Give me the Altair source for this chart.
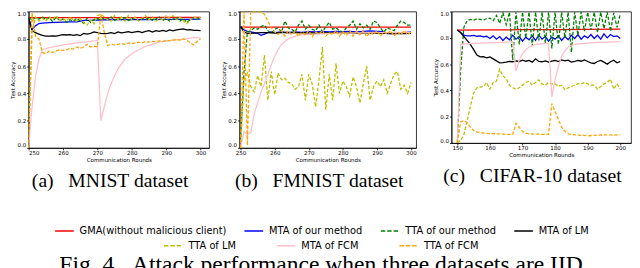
import altair as alt
import pandas as pd

SERIES = ["GMA(without malicious client)", "MTA of our method", "TTA of our method",
          "MTA of LM", "TTA of LM", "MTA of FCM", "TTA of FCM"]
GROUP_A = SERIES[:4]
GROUP_B = SERIES[4:]
COLORS_A = ["#ff0000", "#0000ff", "#008000", "#000000"]
COLORS_B = ["#bfbf00", "#ffc0cb", "#ffa500"]
DASHED = ["TTA of our method", "TTA of LM", "TTA of FCM"]

rounds_ab = list(range(250, 301))
rounds_c = list(range(150, 201))
y_ticks = [0.0, 0.2, 0.4, 0.6, 0.8, 1.0]
x_ticks_ab = [250, 260, 270, 280, 290, 300]
x_ticks_c = [150, 160, 170, 180, 190, 200]

# ---------------- (a) MNIST ----------------
a_gma_x = [250, 260, 270, 280, 290, 300]
a_gma_y = [0.955, 0.956, 0.956, 0.956, 0.957, 0.957]
a_mta_our_x = [250, 251, 252, 253, 254, 256, 258, 260, 262, 264, 266, 268, 270, 275, 280, 285, 290, 295, 300]
a_mta_our_y = [0.955, 0.87, 0.895, 0.912, 0.915, 0.918, 0.92, 0.922, 0.925, 0.925, 0.935, 0.936, 0.938, 0.94,
               0.94, 0.941, 0.942, 0.943, 0.944]
a_tta_our_y = [0.955, 0.94, 0.955, 0.945, 0.96, 0.94, 0.955, 0.925, 0.96, 0.935,
               0.945, 0.92, 0.94, 0.93, 0.95, 0.93, 0.915, 0.95, 0.92, 0.94,
               0.95, 0.935, 0.955, 0.945, 0.96, 0.935, 0.95, 0.94, 0.955, 0.935,
               0.945, 0.955, 0.935, 0.95, 0.94, 0.955, 0.935, 0.945, 0.96, 0.935,
               0.95, 0.93, 0.945, 0.955, 0.93, 0.95, 0.92, 0.94, 0.955, 0.945, 0.96]
a_mta_lm_y = [0.955, 0.86, 0.845, 0.835, 0.825, 0.82, 0.82, 0.822, 0.82, 0.825,
              0.83, 0.828, 0.83, 0.825, 0.83, 0.823, 0.84, 0.835, 0.84, 0.85,
              0.845, 0.84, 0.838, 0.84, 0.845, 0.838, 0.85, 0.843, 0.848, 0.852,
              0.845, 0.85, 0.855, 0.845, 0.855, 0.86, 0.85, 0.86, 0.855, 0.862,
              0.855, 0.865, 0.858, 0.866, 0.87, 0.872, 0.865, 0.868, 0.862, 0.862, 0.86]
a_tta_lm_y = [0.0, 0.85, 0.96, 0.93, 0.95, 0.93, 0.96, 0.94, 0.97, 0.93,
              0.95, 0.93, 0.96, 0.94, 0.93, 0.95, 0.92, 0.9, 0.94, 0.91,
              0.97, 0.98, 0.96, 0.94, 0.93, 0.97, 0.94, 0.96, 0.93, 0.97,
              0.94, 0.96, 0.93, 0.95, 0.97, 0.94, 0.96, 0.93, 0.95, 0.94,
              0.97, 0.95, 0.97, 0.94, 0.96, 0.93, 0.91, 0.94, 0.96, 0.95, 0.96]
a_mta_fcm_x = [250, 251, 252, 253, 254, 256, 258, 260, 262, 264, 266, 268, 270, 271, 272, 273, 274, 275, 276,
               278, 280, 282, 284, 286, 288, 290, 292, 294, 296, 298, 300]
a_mta_fcm_y = [0.0, 0.3, 0.52, 0.65, 0.72, 0.735, 0.745, 0.755, 0.762, 0.77, 0.775, 0.782, 0.788, 0.2, 0.3,
               0.4, 0.47, 0.53, 0.58, 0.65, 0.69, 0.72, 0.745, 0.76, 0.775, 0.785, 0.79, 0.795, 0.8, 0.81, 0.805]
a_tta_fcm_y = [0.0, 0.99, 0.82, 0.8, 0.70, 0.69, 0.71, 0.70, 0.71, 0.72,
               0.715, 0.72, 0.73, 0.725, 0.74, 0.73, 0.74, 0.76, 0.74, 0.745,
               0.74, 0.98, 0.85, 0.75, 0.76, 0.755, 0.76, 0.765, 0.76, 0.77,
               0.765, 0.77, 0.775, 0.77, 0.78, 0.775, 0.78, 0.78, 0.785, 0.78,
               0.79, 0.785, 0.79, 0.795, 0.79, 0.8, 0.79, 0.77, 0.755, 0.78, 0.80]

# ---------------- (b) FMNIST ----------------
b_gma_x = [250, 260, 270, 280, 290, 300]
b_gma_y = [0.885, 0.885, 0.885, 0.885, 0.885, 0.885]
b_mta_our_x = [250, 251, 252, 253, 254, 255, 256, 257, 258, 259, 260, 262, 264, 266, 268, 270, 272, 274, 276,
               278, 280, 282, 284, 286, 288, 290, 292, 293, 294, 296, 298, 300]
b_mta_our_y = [0.89, 0.865, 0.855, 0.85, 0.845, 0.84, 0.825, 0.835, 0.845, 0.85, 0.845, 0.85, 0.845, 0.85,
               0.848, 0.852, 0.85, 0.855, 0.85, 0.855, 0.852, 0.855, 0.85, 0.855, 0.858, 0.855, 0.852, 0.84,
               0.838, 0.84, 0.845, 0.85]
b_tta_our_y = [0.05, 0.55, 0.85, 0.86, 0.88, 0.87, 0.89, 0.9, 0.86, 0.84,
               0.87, 0.88, 0.85, 0.93, 0.88, 0.87, 0.85, 0.9, 0.93, 0.87,
               0.9, 0.87, 0.86, 0.9, 0.85, 0.89, 0.92, 0.87, 0.88, 0.86,
               0.85, 0.88, 0.9, 0.93, 0.87, 0.91, 0.88, 0.9, 0.87, 0.93,
               0.92, 0.88, 0.85, 0.88, 0.87, 0.86, 0.9, 0.93, 0.92, 0.9, 0.9]
b_mta_lm_x = [250, 251, 252, 254, 256, 258, 260, 262, 264, 266, 268, 270, 272, 274, 276, 278, 280, 282, 284,
              286, 288, 290, 292, 294, 296, 298, 300]
b_mta_lm_y = [0.89, 0.85, 0.84, 0.842, 0.845, 0.845, 0.842, 0.845, 0.848, 0.845, 0.843, 0.845, 0.842, 0.845,
              0.843, 0.845, 0.842, 0.845, 0.84, 0.843, 0.84, 0.842, 0.84, 0.838, 0.84, 0.838, 0.84]
b_tta_lm_y = [0.0, 0.5, 0.55, 0.45, 0.41, 0.53, 0.45, 0.68, 0.35, 0.56,
              0.39, 0.55, 0.5, 0.51, 0.48, 0.47, 0.43, 0.45, 0.54, 0.35,
              0.54, 0.47, 0.3, 0.5, 0.74, 0.28, 0.54, 0.35, 0.62, 0.4,
              0.49, 0.45, 0.38, 0.52, 0.45, 0.33, 0.47, 0.6, 0.35, 0.45,
              0.49, 0.45, 0.5, 0.4, 0.47, 0.54, 0.56, 0.43, 0.46, 0.4, 0.48]
b_mta_fcm_x = [250, 251, 252, 253, 254, 255, 256, 257, 258, 259, 260, 261, 262, 263, 264, 265, 267, 269, 272,
               276, 280, 290, 300]
b_mta_fcm_y = [0.0, 0.12, 0.1, 0.11, 0.25, 0.33, 0.41, 0.47, 0.54, 0.61, 0.67, 0.72, 0.76, 0.78, 0.8, 0.81,
               0.825, 0.83, 0.835, 0.84, 0.842, 0.845, 0.847]
b_tta_fcm_y = [0.0, 1.0, 0.02, 1.0, 1.0, 1.0, 0.995, 0.98, 0.93, 0.88,
               0.85, 0.83, 0.86, 0.82, 0.86, 0.83, 0.855, 0.82, 0.85, 0.83,
               0.86, 0.815, 0.85, 0.835, 0.86, 0.82, 0.845, 0.83, 0.86, 0.82,
               0.85, 0.825, 0.86, 0.82, 0.855, 0.83, 0.86, 0.815, 0.85, 0.83,
               0.86, 0.82, 0.85, 0.835, 0.86, 0.82, 0.85, 0.83, 0.86, 0.83, 0.85]

# ---------------- (c) CIFAR-10 ----------------
c_gma_x = [150, 160, 170, 180, 190, 200]
c_gma_y = [0.858, 0.86, 0.862, 0.863, 0.864, 0.866]
c_mta_our_y = [0.86, 0.84, 0.82, 0.815, 0.815, 0.818, 0.812, 0.815, 0.808, 0.812,
               0.795, 0.815, 0.79, 0.81, 0.78, 0.805, 0.785, 0.82, 0.79, 0.81,
               0.775, 0.805, 0.785, 0.815, 0.78, 0.82, 0.79, 0.81, 0.775, 0.805,
               0.79, 0.815, 0.78, 0.81, 0.785, 0.82, 0.795, 0.825, 0.79, 0.815,
               0.8, 0.825, 0.795, 0.82, 0.79, 0.83, 0.8, 0.825, 0.81, 0.815, 0.795]
c_tta_our_y = [0.0, 0.55, 0.88, 0.93, 0.94, 0.935, 0.945, 0.94, 0.935, 0.945,
               0.95, 0.93, 0.97, 0.91, 0.99, 0.9, 0.995, 0.63, 0.995, 0.75,
               0.995, 0.8, 0.995, 0.74, 0.995, 0.78, 0.995, 0.76, 0.995, 0.72,
               0.995, 0.75, 0.995, 0.8, 0.995, 0.69, 0.995, 0.82, 0.995, 0.85,
               0.995, 0.86, 0.995, 0.84, 0.995, 0.87, 0.995, 0.85, 0.99, 0.88, 0.98]
c_mta_lm_y = [0.86, 0.84, 0.81, 0.78, 0.75, 0.71, 0.67, 0.655, 0.656, 0.648,
              0.655, 0.64, 0.625, 0.61, 0.612, 0.615, 0.62, 0.618, 0.625, 0.62,
              0.63, 0.622, 0.628, 0.615, 0.64, 0.62, 0.618, 0.625, 0.615, 0.622,
              0.628, 0.62, 0.632, 0.625, 0.63, 0.615, 0.62, 0.628, 0.622, 0.632,
              0.62, 0.61, 0.605, 0.62, 0.628, 0.615, 0.6, 0.618, 0.63, 0.61, 0.62]
c_tta_lm_y = [0.0, 0.02, 0.06, 0.17, 0.28, 0.38, 0.42, 0.425, 0.43, 0.46,
              0.41, 0.46, 0.47, 0.56, 0.51, 0.49, 0.44, 0.42, 0.41, 0.42,
              0.44, 0.46, 0.47, 0.44, 0.46, 0.48, 0.45, 0.44, 0.46, 0.45,
              0.45, 0.43, 0.44, 0.405, 0.42, 0.43, 0.44, 0.45, 0.45, 0.46,
              0.45, 0.44, 0.44, 0.41, 0.43, 0.45, 0.46, 0.485, 0.41, 0.45, 0.41]
c_mta_fcm_x = [150, 151, 153, 155, 157, 159, 161, 163, 165, 167, 168, 169, 170, 171, 172, 173, 174, 176, 178,
               179, 180, 181, 182, 183, 184, 185, 186, 188, 190, 193, 196, 200]
c_mta_fcm_y = [0.0, 0.75, 0.755, 0.757, 0.76, 0.762, 0.764, 0.766, 0.768, 0.77, 0.55, 0.63, 0.68, 0.71, 0.73,
               0.74, 0.75, 0.755, 0.76, 0.35, 0.48, 0.58, 0.66, 0.7, 0.73, 0.745, 0.75, 0.755, 0.76, 0.765,
               0.768, 0.772]
c_tta_fcm_x = [150, 151, 152, 153, 154, 155, 156, 157, 158, 160, 162, 164, 166, 167, 168, 169, 170, 171, 172,
               174, 176, 178, 179, 180, 181, 182, 183, 184, 185, 187, 190, 193, 196, 198, 200]
c_tta_fcm_y = [0.0, 0.16, 0.17, 0.155, 0.12, 0.095, 0.085, 0.08, 0.075, 0.072, 0.07, 0.068, 0.065, 0.065,
               0.15, 0.12, 0.09, 0.075, 0.07, 0.068, 0.066, 0.065, 0.3, 0.24, 0.18, 0.12, 0.09, 0.07, 0.065,
               0.06, 0.055, 0.06, 0.062, 0.06, 0.062]

panel_a = [(a_gma_x, a_gma_y), (a_mta_our_x, a_mta_our_y), (rounds_ab, a_tta_our_y), (rounds_ab, a_mta_lm_y),
           (rounds_ab, a_tta_lm_y), (a_mta_fcm_x, a_mta_fcm_y), (rounds_ab, a_tta_fcm_y)]
panel_b = [(b_gma_x, b_gma_y), (b_mta_our_x, b_mta_our_y), (rounds_ab, b_tta_our_y), (b_mta_lm_x, b_mta_lm_y),
           (rounds_ab, b_tta_lm_y), (b_mta_fcm_x, b_mta_fcm_y), (rounds_ab, b_tta_fcm_y)]
panel_c = [(c_gma_x, c_gma_y), (rounds_c, c_mta_our_y), (rounds_c, c_tta_our_y), (rounds_c, c_mta_lm_y),
           (rounds_c, c_tta_lm_y), (c_mta_fcm_x, c_mta_fcm_y), (c_tta_fcm_x, c_tta_fcm_y)]


def to_frame(panel):
    rows = []
    for name, (xs, ys) in zip(SERIES, panel):
        for xv, yv in zip(xs, ys):
            rows.append({"series": name, "round": xv, "acc": yv})
    return pd.DataFrame(rows)


DASH_EXPR = ("indexof(['TTA of our method','TTA of LM','TTA of FCM'], datum.value) >= 0"
             " ? [4.5, 2] : [1, 0]")

legend_common = dict(orient="none", direction="horizontal", title=None, symbolType="stroke",
                     symbolSize=361, symbolStrokeWidth=1.6, labelFont="DejaVu Sans", labelFontSize=10,
                     labelColor="black", labelOffset=5, padding=0, labelLimit=300,
                     symbolDash={"expr": DASH_EXPR})
legend_a = alt.Legend(legendX=26, legendY=213, columnPadding=14, **legend_common)
legend_b = alt.Legend(legendX=137, legendY=228, columnPadding=37, **legend_common)


def make_panel(panel, xdom, xticks, w, h, caption):
    base = alt.Chart(to_frame(panel))
    xenc = alt.X("round:Q", scale=alt.Scale(domain=xdom, nice=False, zero=False),
                 axis=alt.Axis(values=xticks, title="Communication Rounds", format="d"))
    yenc = alt.Y("acc:Q", scale=alt.Scale(domain=[0, 1], nice=False),
                 axis=alt.Axis(values=y_ticks, format=".1f", title="Test Accuracy", labelFlush=True))
    layers = []
    for s in SERIES:
        mk = dict(strokeWidth=1.3, clip=True)
        if s in DASHED:
            mk["strokeDash"] = [3.5, 1.8]
        ch = base.transform_filter(alt.datum.series == s).mark_line(**mk)
        if s in GROUP_A:
            ch = ch.encode(x=xenc, y=yenc,
                           color=alt.Color("series:N", scale=alt.Scale(domain=GROUP_A, range=COLORS_A),
                                           legend=legend_a))
        else:
            ch = ch.encode(x=xenc, y=yenc,
                           stroke=alt.Stroke("series:N", scale=alt.Scale(domain=GROUP_B, range=COLORS_B),
                                             legend=legend_b))
        layers.append(ch)
    return alt.layer(*layers).properties(
        width=w, height=h,
        title=alt.TitleParams(caption, orient="bottom", anchor="middle", frame="bounds",
                              font="Liberation Serif", fontSize=20, fontWeight="normal",
                              color="black", offset=9))


NB = "\u00a0"
pa = make_panel(panel_a, [250, 302.5], x_ticks_ab, 184, 139, "(a)" + NB * 3 + "MNIST dataset")
pb = make_panel(panel_b, [249.7, 301.5], x_ticks_ab, 180, 139, "(b)" + NB * 3 + "FMNIST dataset")
pc = make_panel(panel_c, [148.2, 203.3], x_ticks_c, 183, 134, "(c)" + NB * 3 + "CIFAR-10 dataset")

chart = alt.hconcat(alt.hconcat(pa, pb, spacing=11), pc, spacing=16).properties(
    padding={"left": 2, "top": 0, "right": 0, "bottom": 0},
    title=alt.TitleParams("Fig. 4" + NB * 3 + "Attack performance when three datasets are IID",
                          orient="bottom", anchor="middle", frame="bounds", font="Liberation Serif",
                          fontSize=24, fontWeight="normal", color="black", offset=2)
).configure_view(stroke="black", strokeWidth=0.8).configure_axis(
    labelFont="DejaVu Sans", labelFontSize=5.6, labelColor="black", labelPadding=1,
    titleFont="DejaVu Sans", titleFontSize=5.6, titleFontWeight="normal", titleColor="black",
    titlePadding=1, tickSize=2, tickColor="black", tickWidth=0.8, domainColor="black",
    domainWidth=0.8, grid=False
)

chart.save("out.html", embed_options={"renderer": "svg", "actions": False})
